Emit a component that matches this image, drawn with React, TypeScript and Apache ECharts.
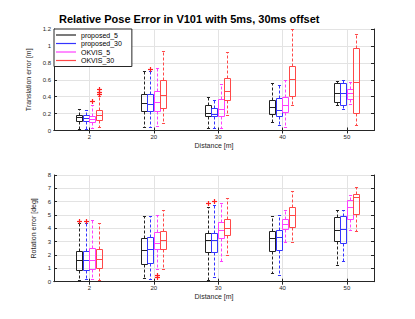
import React, { useEffect, useRef } from "react";
import * as echarts from "echarts";

const categories = ["2", "20", "30", "40", "50"];
const seriesNames = ["proposed_5", "proposed_30", "OKVIS_5", "OKVIS_30"];
const seriesColors = ["#222222", "#3434ff", "#ff3fff", "#ff4848"];
const outlierColor = "#ff2020";

// each entry: [lower whisker, q1, median, q3, upper whisker] per distance
const transProposed5 = [[0.01, 0.11, 0.155, 0.175, 0.25], [0.03, 0.23, 0.32, 0.42, 0.70], [0.025, 0.16, 0.205, 0.30, 0.385], [0.09, 0.19, 0.27, 0.36, 0.56], [0.29, 0.33, 0.44, 0.55, 0.58]];
const transProposed30 = [[0.01, 0.11, 0.145, 0.175, 0.24], [0.03, 0.22, 0.31, 0.42, 0.70], [0.025, 0.16, 0.19, 0.26, 0.355], [0.06, 0.17, 0.24, 0.38, 0.53], [0.25, 0.29, 0.44, 0.56, 0.59]];
const transOkvis5 = [[0.025, 0.10, 0.135, 0.165, 0.30], [0.05, 0.23, 0.33, 0.465, 0.73], [0.02, 0.17, 0.25, 0.37, 0.54], [0.03, 0.21, 0.30, 0.39, 0.59], [0.31, 0.37, 0.44, 0.49, 0.57]];
const transOkvis30 = [[0.03, 0.115, 0.18, 0.24, 0.40], [0.085, 0.26, 0.41, 0.59, 0.93], [0.18, 0.35, 0.46, 0.62, 0.92], [0.30, 0.40, 0.60, 0.76, 1.19], [0.06, 0.20, 0.57, 0.97, 1.14]];

const rotProposed5 = [[0.1, 0.85, 1.6, 2.3, 4.4], [0.25, 1.3, 2.35, 3.25, 4.9], [0.1, 2.2, 3.1, 3.65, 5.6], [0.65, 2.3, 3.25, 3.75, 4.9], [1.2, 3.0, 3.85, 4.85, 5.35]];
const rotProposed30 = [[0.15, 0.85, 1.6, 2.3, 4.4], [0.15, 1.35, 2.4, 3.3, 4.9], [0.3, 2.2, 3.1, 3.65, 5.7], [0.5, 2.35, 3.35, 3.85, 5.0], [1.5, 2.9, 3.9, 4.9, 5.35]];
const rotOkvis5 = [[0.15, 0.95, 1.6, 2.5, 4.6], [0.95, 2.45, 2.85, 3.7, 5.0], [1.5, 3.25, 3.85, 4.45, 5.9], [2.95, 3.95, 4.3, 4.7, 5.35], [3.85, 4.7, 5.6, 6.1, 6.45]];
const rotOkvis30 = [[0.1, 1.0, 1.7, 2.45, 4.35], [0.95, 2.4, 3.1, 3.8, 5.35], [2.0, 3.5, 4.0, 4.7, 6.25], [2.95, 4.05, 4.95, 5.55, 6.8], [3.75, 5.05, 6.35, 6.55, 7.05]];

// [distance index, series index, value]
const transOutliers = [[0, 2, 0.345], [0, 3, 0.43], [0, 3, 0.445], [0, 3, 0.485], [1, 1, 0.72]];
const rotOutliers = [[0, 0, 4.55], [0, 1, 4.55], [1, 2, 0.5], [1, 2, 0.3], [2, 0, 5.9], [2, 1, 6.0]];

const transTicks = [0, 0.2, 0.4, 0.6, 0.8, 1, 1.2];
const rotTicks = [0, 1, 2, 3, 4, 5, 6, 7, 8];

const FONT = "Liberation Sans";
const offsets = [-0.15, -0.05, 0.05, 0.15];
const boxW = 0.1;
const catPositions = categories.map((_, i) => i + 1);

const crisp = (v: number) => Math.round(v - 0.5) + 0.5;

function boxRender(sIdx: number) {
  return (params: any, api: any) => {
    const x = api.value(0);
    const lo = api.coord([x, api.value(1)]);
    const q1 = api.coord([x, api.value(2)]);
    const med = api.coord([x, api.value(3)]);
    const q3 = api.coord([x, api.value(4)]);
    const hi = api.coord([x, api.value(5)]);
    const w = api.size([boxW, 0])[0] * 0.96;
    const cx = crisp(lo[0]);
    const color = seriesColors[sIdx];
    const left = crisp(cx - w / 2);
    const right = crisp(cx + w / 2);
    const capHalf = w / 4;
    const solid = { stroke: color, lineWidth: 1, fill: null };
    const dashed = { stroke: color, lineWidth: 1, lineDash: [3, 2], fill: null };
    return {
      type: "group",
      children: [
        { type: "line", shape: { x1: cx, y1: crisp(q3[1]), x2: cx, y2: crisp(hi[1]) }, style: dashed },
        { type: "line", shape: { x1: cx, y1: crisp(q1[1]), x2: cx, y2: crisp(lo[1]) }, style: dashed },
        { type: "line", shape: { x1: cx - capHalf, y1: crisp(hi[1]), x2: cx + capHalf, y2: crisp(hi[1]) }, style: solid },
        { type: "line", shape: { x1: cx - capHalf, y1: crisp(lo[1]), x2: cx + capHalf, y2: crisp(lo[1]) }, style: solid },
        { type: "rect", shape: { x: left, y: crisp(q3[1]), width: right - left, height: crisp(q1[1]) - crisp(q3[1]) }, style: solid },
        { type: "line", shape: { x1: left, y1: crisp(med[1]), x2: right, y2: crisp(med[1]) }, style: solid },
      ],
    };
  };
}

function outlierRender(params: any, api: any) {
  const p = api.coord([api.value(0), api.value(1)]);
  const cx = crisp(p[0]);
  const cy = crisp(p[1]);
  const s = 2.5;
  const st = { stroke: outlierColor, lineWidth: 1.2 };
  return {
    type: "group",
    children: [
      { type: "line", shape: { x1: cx - s, y1: cy, x2: cx + s, y2: cy }, style: st },
      { type: "line", shape: { x1: cx, y1: cy - s, x2: cx, y2: cy + s }, style: st },
    ],
  };
}

function makeBoxSeries(sets: number[][][], xIdx: number, yIdx: number) {
  return sets.map((set, sIdx) => ({
    type: "custom",
    name: seriesNames[sIdx],
    xAxisIndex: xIdx,
    yAxisIndex: yIdx,
    itemStyle: { color: seriesColors[sIdx] },
    encode: { x: 0, y: [1, 2, 3, 4, 5] },
    data: set.map((d, i) => [catPositions[i] + offsets[sIdx], ...d]),
    renderItem: boxRender(sIdx),
    z: 3,
  }));
}

function makeOutlierSeries(outs: number[][], xIdx: number, yIdx: number) {
  return {
    type: "custom",
    xAxisIndex: xIdx,
    yAxisIndex: yIdx,
    encode: { x: 0, y: 1 },
    data: outs.map((o) => [catPositions[o[0]] + offsets[o[1]], o[2]]),
    renderItem: outlierRender,
    z: 4,
  };
}

const AX = "#262626";
const GRIDC = "#e3e3e3";
const X_MIN = 0.45;
const X_MAX = 5.42;

function xAxes(gridIndex: number) {
  return [
    {
      type: "value",
      gridIndex,
      min: X_MIN,
      max: X_MAX,
      position: "bottom",
      name: "Distance [m]",
      nameLocation: "middle",
      nameGap: 11,
      nameTextStyle: { fontSize: 7, fontFamily: FONT, color: AX, verticalAlign: "top" },
      axisLine: { show: true, lineStyle: { color: AX, width: 1 } },
      axisTick: { show: true, inside: true, length: 3, customValues: catPositions, lineStyle: { color: AX } },
      axisLabel: {
        customValues: catPositions,
        fontSize: 6,
        fontFamily: FONT,
        color: AX,
        margin: 3,
        formatter: (v: number) => categories[Math.round(v) - 1] ?? "",
      },
      splitLine: { show: true, lineStyle: { color: GRIDC, width: 1 } },
    },
    {
      type: "value",
      gridIndex,
      min: X_MIN,
      max: X_MAX,
      position: "top",
      axisLine: { show: true, lineStyle: { color: AX, width: 1 } },
      axisTick: { show: true, inside: true, length: 3, customValues: catPositions, lineStyle: { color: AX } },
      axisLabel: { show: false },
      splitLine: { show: false },
    },
  ];
}

function yAxes(gridIndex: number, max: number, interval: number, name: string, ticks: number[]) {
  return [
    {
      type: "value",
      gridIndex,
      min: ticks[0],
      max,
      interval,
      position: "left",
      name,
      nameLocation: "middle",
      nameGap: 12,
      nameTextStyle: { fontSize: 7, fontFamily: FONT, color: AX },
      axisLine: { show: true, lineStyle: { color: AX, width: 1 } },
      axisTick: { show: true, inside: true, length: 3, lineStyle: { color: AX } },
      axisLabel: { fontSize: 6, fontFamily: FONT, color: AX, margin: 3 },
      splitLine: { show: true, lineStyle: { color: GRIDC, width: 1 } },
    },
    {
      type: "value",
      gridIndex,
      min: ticks[0],
      max,
      interval,
      position: "right",
      axisLine: { show: true, lineStyle: { color: AX, width: 1 } },
      axisTick: { show: true, inside: true, length: 3, lineStyle: { color: AX } },
      axisLabel: { show: false },
      splitLine: { show: false },
    },
  ];
}

export default function App() {
  const ref = useRef<HTMLDivElement>(null);
  useEffect(() => {
    if (!ref.current) return;
    const chart = echarts.init(ref.current, null, { renderer: "svg" });
    chart.setOption({
      animation: false,
      backgroundColor: "#ffffff",
      title: {
        text: "Relative Pose Error in V101 with 5ms, 30ms offset",
        left: 59,
        top: 13,
        padding: 0,
        textStyle: { fontSize: 11, fontWeight: "bold", fontFamily: FONT, color: "#000" },
      },
      legend: {
        data: seriesNames,
        orient: "vertical",
        left: 54,
        top: 29,
        itemWidth: 20,
        itemHeight: 1.2,
        itemGap: 0.5,
        itemTextGap: 3,
        icon: "rect",
        itemStyle: { borderWidth: 0 },
        backgroundColor: "#ffffff",
        borderColor: AX,
        borderWidth: 1,
        borderRadius: 0,
        padding: [2, 10, 2, 2],
        textStyle: { fontSize: 7, fontFamily: FONT, color: "#000", lineHeight: 8 },
        z: 10,
      },
      grid: [
        { left: 54, width: 320, top: 29, height: 101.5 },
        { left: 54, width: 320, top: 175, height: 106.7 },
      ],
      xAxis: [...xAxes(0), ...xAxes(1)],
      yAxis: [
        ...yAxes(0, 1.2, 0.2, "Translation error [m]", transTicks),
        ...yAxes(1, 8, 1, "Rotation error [deg]", rotTicks),
      ],
      series: [
        ...makeBoxSeries([transProposed5, transProposed30, transOkvis5, transOkvis30], 0, 0),
        makeOutlierSeries(transOutliers, 0, 0),
        ...makeBoxSeries([rotProposed5, rotProposed30, rotOkvis5, rotOkvis30], 2, 2),
        makeOutlierSeries(rotOutliers, 2, 2),
      ],
    });
    return () => chart.dispose();
  }, []);
  return <div ref={ref} style={{ width: 415, height: 319, position: "absolute", left: 0, top: 0 }} />;
}
